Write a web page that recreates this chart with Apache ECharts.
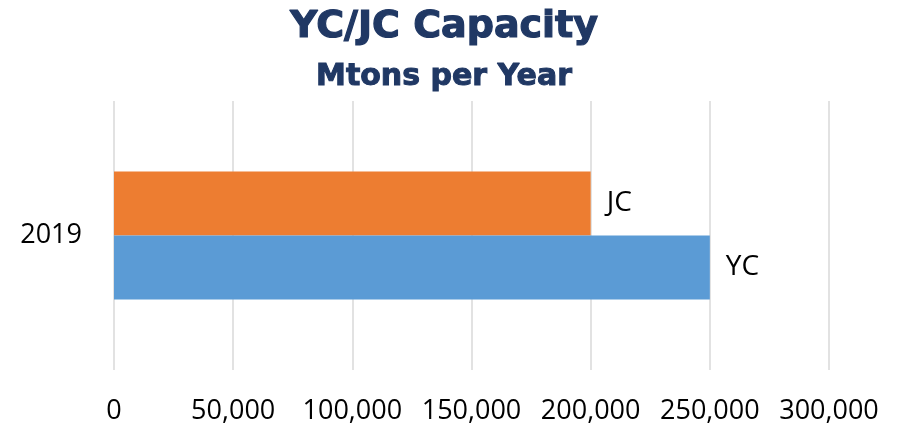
<!DOCTYPE html>
<html>
<head>
<meta charset="utf-8">
<script src="https://cdn.jsdelivr.net/npm/echarts@6/dist/echarts.min.js"></script>
<style>
  html, body { margin: 0; padding: 0; background: #fff; }
  #chart { width: 898px; height: 425px; }
</style>
</head>
<body>
<div id="chart"></div>
<script>
// chart data
const categories = ['2019']
const seriesNames = ['JC', 'YC']
const jcValues = [200000]
const ycValues = [250000]
const xTicks = [0, 50000, 100000, 150000, 200000, 250000, 300000]

const chart = echarts.init(document.getElementById('chart'))
const labelFont = 'Open Sans'
const titleColor = '#203864'

const option = {
  animation: false,
  title: [
    {
      text: 'YC/JC Capacity',
      left: 439,
      textAlign: 'center',
      top: 3,
      textStyle: {
        fontFamily: 'DejaVu Sans', fontWeight: 'bold', fontSize: 38, color: titleColor,
        textBorderColor: titleColor, textBorderWidth: 1.2
      }
    },
    {
      text: 'Mtons per Year',
      left: 439,
      textAlign: 'center',
      top: 57,
      textStyle: {
        fontFamily: 'DejaVu Sans', fontWeight: 'bold', fontSize: 30, color: titleColor,
        textBorderColor: titleColor, textBorderWidth: 1
      }
    }
  ],
  grid: { left: 114, right: 69, top: 101, bottom: 55 },
  xAxis: {
    type: 'value',
    min: xTicks[0],
    max: xTicks[xTicks.length - 1],
    interval: xTicks[1] - xTicks[0],
    axisLine: { show: false },
    axisTick: { show: false },
    splitLine: { lineStyle: { color: '#d9d9d9', width: 1.5 } },
    axisLabel: {
      margin: 28,
      fontFamily: labelFont,
      fontSize: 27,
      color: '#000',
      formatter: v => v.toLocaleString('en-US')
    }
  },
  yAxis: {
    type: 'category',
    data: categories,
    axisLine: { show: false },
    axisTick: { show: false },
    axisLabel: { margin: 32, fontFamily: labelFont, fontSize: 27, color: '#000' }
  },
  series: [
    {
      name: seriesNames[0],
      type: 'bar',
      data: jcValues,
      barWidth: 64,
      barGap: '0%',
      itemStyle: { color: '#ED7D31' },
      label: {
        show: true, position: 'right', distance: 16,
        formatter: seriesNames[0],
        fontFamily: labelFont, fontSize: 28, color: '#000'
      }
    },
    {
      name: seriesNames[1],
      type: 'bar',
      data: ycValues,
      barWidth: 64,
      barGap: '0%',
      itemStyle: { color: '#5B9BD5' },
      label: {
        show: true, position: 'right', distance: 16,
        formatter: seriesNames[1],
        fontFamily: labelFont, fontSize: 28, color: '#000'
      }
    }
  ]
}

chart.setOption(option)
</script>
</body>
</html>
